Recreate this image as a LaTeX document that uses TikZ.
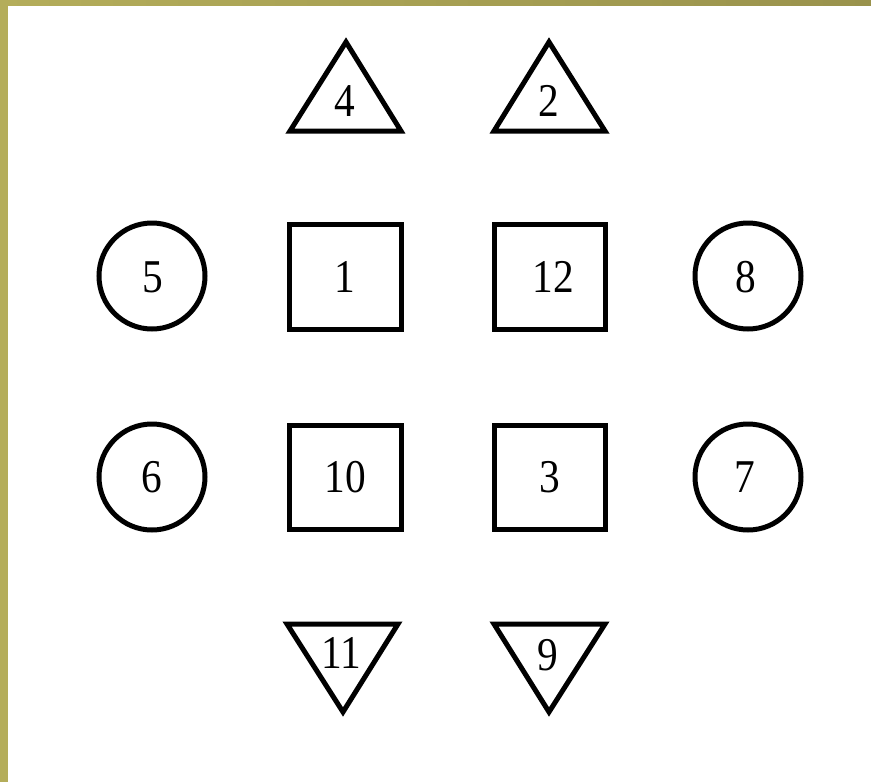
\documentclass[tikz,border=0pt]{standalone}
\usepackage{fontspec}
\setmainfont{Liberation Serif}
\definecolor{olive1}{HTML}{B4AD5A}
\definecolor{olive2}{HTML}{99924C}
\begin{document}
\begin{tikzpicture}[x=1pt,y=-1pt,
  shapeline/.style={draw=black,line width=5pt,line join=miter},
  lbl/.style={font=\fontsize{47}{50}\selectfont,inner sep=0pt,xscale=0.88}]
\useasboundingbox (0,0) rectangle (871,782);
\fill[white] (0,0) rectangle (871,782);
\shade[left color=olive1,right color=olive2] (0,0) rectangle (871,5);
\fill[olive1] (0,0) rectangle (8,782);
% up triangles
\draw[shapeline] (290,131) -- (346,42) -- (401,131) -- cycle;
\draw[shapeline] (494,131) -- (549,42) -- (605,131) -- cycle;
\node[lbl] (t4) at (345,101) {4};
\node[lbl] (t2) at (549,101) {2};
% circles
\draw[shapeline] (152,276) circle (53);
\draw[shapeline] (748,276) circle (53);
\draw[shapeline] (152,477) circle (53);
\draw[shapeline] (748,477) circle (53);
\node[lbl] (c5) at (153,277) {5};
\node[lbl] (c8) at (746,277) {8};
\node[lbl] (c6) at (152,477) {6};
\node[lbl] (c7) at (745,477) {7};
% squares
\draw[shapeline] (289,224) rectangle (401,329);
\draw[shapeline] (494,224) rectangle (605,329);
\draw[shapeline] (289,425) rectangle (401,529);
\draw[shapeline] (494,425) rectangle (605,529);
\node[lbl] (s1) at (345,277) {1};
\node[lbl] (s12) at (553,277) {12};
\node[lbl] (s10) at (345,477) {10};
\node[lbl] (s3) at (550,477) {3};
% down triangles
\draw[shapeline] (287,624) -- (398,624) -- (343,712) -- cycle;
\draw[shapeline] (494,624) -- (605,624) -- (549,712) -- cycle;
\node[lbl] (t11) at (341,653) {11};
\node[lbl] (t9) at (548,655) {9};
\end{tikzpicture}
\end{document}
